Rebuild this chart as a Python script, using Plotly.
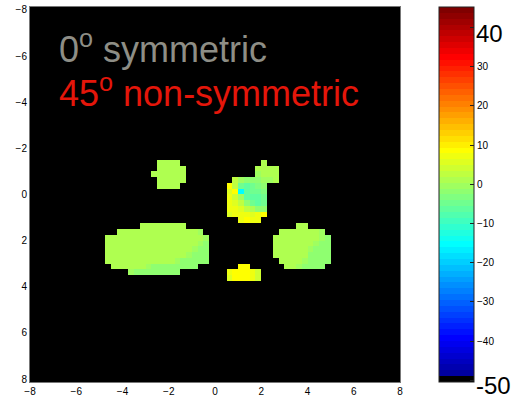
import numpy as np
import plotly.graph_objects as go
from math import ceil

N = None

# Grid: 64 x 64 cells of 0.25 units covering [-8, 8] in x and y
cell_size = 0.25
grid_cells = 64
axis_ticks = [-8, -6, -4, -2, 0, 2, 4, 6, 8]

# Each patch: (left edge x, top edge y) and its rows of cell values, top to bottom
patch_a_origin = (-2.75, -1.5)
patch_a_values = [
    [N, 0.5, 0.5, 0.5, 0.5, N],
    [N, 0.5, 0.5, 0.5, 0.5, 0.5],
    [0.6, 0.5, 0.5, 0.5, 0.5, 0.5],
    [N, 0.5, 0.5, 0.5, 0.5, 0.5],
    [N, 0.5, 0.5, 0.5, 0.5, N],
]

patch_b_origin = (0.5, -1.5)
patch_b_values = [
    [N, N, N, N, N, N, 0.5, N, N],
    [N, N, N, N, N, 0.5, 0.5, 0.5, 0.5],
    [N, N, N, N, N, 0.2, 0.5, 0.5, 0.5],
    [N, 2.0, -1.0, -2.5, -2.5, -1.5, -0.5, 0.3, 0.5],
    [8.5, 3.0, -5.5, -6.0, -4.5, -3.5, -2.5, N, N],
    [6.0, 9.0, -16.0, -7.0, -5.5, -5.0, -3.5, N, N],
    [6.5, 4.5, -0.5, -6.0, -7.0, -6.0, -4.5, N, N],
    [6.5, 5.5, 3.0, -1.5, -5.5, -6.5, -4.5, N, N],
    [6.5, 6.5, 5.0, 3.0, 0.5, -1.5, -2.0, N, N],
    [5.5, 6.5, 7.0, 6.5, 6.0, 7.0, 9.0, N, N],
    [N, N, 7.0, 8.0, 7.5, 6.5, N, N, N],
]

patch_c_origin = (-4.75, 1.25)
patch_c_values = [
    [N, N, N, N, N, N, 0.6, 0.6, 0.6, 0.6, 0.6, 0.6, 0.6, 0.6, N, N, N, N],
    [N, N, 0.5, 0.5, 0.5, 0.5, 0.5, 0.5, 0.5, 0.5, 0.5, 0.5, 0.5, 0.5, 0.5, 0.5, 0.0, N],
    [1.8, 0.5, 0.5, 0.5, 0.5, 0.5, 0.5, 0.5, 0.5, 0.5, 0.5, 0.5, 0.5, 0.5, 0.5, 0.5, 0.5, -0.5],
    [1.8, 0.5, 0.5, 0.5, 0.5, 0.5, 0.5, 0.5, 0.5, 0.5, 0.5, 0.5, 0.5, 0.5, 0.5, 0.5, -0.5, -1.5],
    [1.2, 0.5, 0.5, 0.5, 0.5, 0.5, 0.5, 0.5, 0.5, 0.5, 0.5, 0.5, 0.5, 0.5, 0.5, -0.5, -1.5, -2.0],
    [0.8, 0.5, 0.5, 0.5, 0.5, 0.5, 0.5, 0.5, 0.5, 0.5, 0.5, 0.5, 0.5, 0.5, -0.5, -1.5, -2.0, -2.5],
    [0.5, 0.5, 0.5, 0.5, 0.5, 0.5, 0.5, 0.5, 0.5, 0.5, 0.5, 0.5, -0.5, -1.5, -2.0, -2.0, -2.5, -2.5],
    [N, 0.4, 0.4, 0.4, 0.4, 0.4, 0.4, -0.5, -1.5, -1.5, -1.5, -1.5, -1.5, -1.5, -1.5, -1.5, N, N],
    [N, N, N, N, 0.0, -1.5, -1.5, -1.5, -1.5, -1.5, -1.5, -1.5, -1.5, N, N, N, N, N],
]

patch_d_origin = (2.5, 1.25)
patch_d_values = [
    [N, N, N, N, 0.5, 0.5, N, N, N, N],
    [N, 0.5, 0.5, 0.5, 0.5, 0.5, 0.5, 0.5, -1.0, N],
    [0.5, 0.5, 0.5, 0.5, 0.5, 0.5, 0.5, 0.5, -1.0, -1.8],
    [0.5, 0.5, 0.5, 0.5, 0.5, 0.5, 0.5, -1.0, -1.8, -2.0],
    [0.5, 0.5, 0.5, 0.5, 0.5, 0.5, -1.0, -1.8, -2.0, -2.0],
    [0.5, 0.5, 0.5, 0.5, 0.5, 0.5, -1.5, -2.0, -2.0, -2.0],
    [N, 0.5, 0.5, 0.5, 0.5, -1.0, -2.0, -2.0, -2.0, -2.0],
    [N, N, 0.5, 0.5, -1.0, -1.8, -2.0, -2.0, -2.0, N],
]

patch_e_origin = (0.5, 3.0)
patch_e_values = [
    [N, N, 9.0, 9.0, N, N],
    [6.5, 8.5, 9.0, 9.0, 7.5, 4.5],
    [6.0, 8.0, 9.0, 8.5, 7.0, 4.0],
]

color_min = -50.4
color_max = 45.2
colorbar_ticks = [-50, -40, -30, -20, -10, 0, 10, 20, 30, 40]
colorbar_labels = ["", "\u221240", "\u221230", "\u221220", "\u221210",
                   "0", "10", "20", "30", ""]
# the two end values carry large labels
colorbar_end_labels = ["40", "-50"]

title_lines = ["0<sup>o</sup> symmetric", "45<sup>o</sup> non-symmetric"]
title_colors = ["#8e8e86", "#e4160a"]


def matlab_jet(m):
    n = ceil(m / 4)
    u = np.concatenate([np.arange(1, n + 1) / n, np.ones(n - 1), np.arange(n, 0, -1) / n])
    g = ceil(n / 2) - (1 if m % 4 == 1 else 0) + np.arange(1, len(u) + 1)
    r = g + n
    b = g - n
    J = np.zeros((m, 3))
    J[r[r <= m] - 1, 0] = u[r <= m]
    J[g[g <= m] - 1, 1] = u[g <= m]
    bk = b[b >= 1]
    J[bk - 1, 2] = u[len(u) - len(bk):]
    return J


levels = matlab_jet(64)
levels[0] = [0, 0, 0]  # lowest slot drawn in black
colorscale = []
for k, c in enumerate(levels):
    rgb = "rgb(%d,%d,%d)" % tuple(int(round(v * 255)) for v in c)
    colorscale.append([k / 64, rgb])
    colorscale.append([(k + 1) / 64, rgb])

centers = -8 + cell_size / 2 + cell_size * np.arange(grid_cells)
z = np.full((grid_cells, grid_cells), np.nan)
for (x0, y0), rows in [(patch_a_origin, patch_a_values), (patch_b_origin, patch_b_values),
                       (patch_c_origin, patch_c_values), (patch_d_origin, patch_d_values),
                       (patch_e_origin, patch_e_values)]:
    i0 = int(round((y0 + 8) / cell_size))
    j0 = int(round((x0 + 8) / cell_size))
    for di, row in enumerate(rows):
        for dj, v in enumerate(row):
            if v is not None:
                z[i0 + di, j0 + dj] = v

font_family = "Liberation Sans, Arial, Helvetica, sans-serif"

fig = go.Figure(go.Heatmap(
    x=centers, y=centers, z=z,
    zmin=color_min, zmax=color_max,
    colorscale=colorscale,
    hoverongaps=False,
    colorbar=dict(
        x=1.1054, xanchor="left", xpad=0,
        y=0.5, yanchor="middle", ypad=0,
        len=1, lenmode="fraction",
        thickness=35, thicknessmode="pixels",
        outlinewidth=1, outlinecolor="#222",
        tickmode="array", tickvals=colorbar_ticks, ticktext=colorbar_labels,
        ticks="inside", ticklen=4, tickcolor="#222",
        tickfont=dict(family=font_family, size=10, color="black"),
    ),
))

for k, (txt, col) in enumerate(zip(title_lines, title_colors)):
    fig.add_annotation(
        xref="paper", yref="paper", x=0.072, y=[0.894, 0.775][k],
        xanchor="left", yanchor="middle", showarrow=False,
        text=txt, font=dict(family=font_family, size=36, color=col),
    )

for txt, ypos in zip(colorbar_end_labels, [0.928, -0.008]):
    fig.add_annotation(
        xref="paper", yref="paper", x=1.199, y=ypos,
        xanchor="left", yanchor="middle", showarrow=False,
        text=txt, font=dict(family=font_family, size=24, color="black"),
    )

fig.update_layout(
    width=516, height=399,
    margin=dict(l=30, r=116, t=7, b=17, autoexpand=False),
    paper_bgcolor="white", plot_bgcolor="black",
    showlegend=False,
)
fig.update_xaxes(
    range=[-8, 8], tickvals=axis_ticks, showgrid=False, zeroline=False,
    ticks="", showline=True, linecolor="#777", linewidth=1, mirror=True,
    tickfont=dict(family=font_family, size=10, color="black"),
)
fig.update_yaxes(
    range=[8.125, -8.125], tickvals=axis_ticks, showgrid=False, zeroline=False,
    ticks="", showline=True, linecolor="#777", linewidth=1, mirror=True,
    tickfont=dict(family=font_family, size=10, color="black"),
)

fig.write_html("out.html")
